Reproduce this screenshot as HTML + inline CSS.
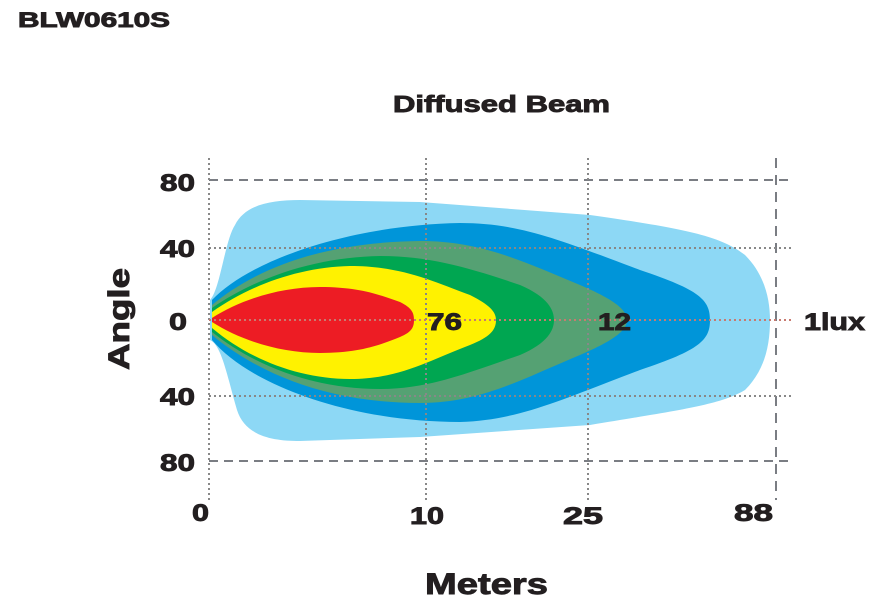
<!DOCTYPE html>
<html><head><style>body{margin:0;background:#fff}svg{display:block}text{font-family:"Liberation Sans",Arial,sans-serif;font-weight:bold;fill:#231f20;stroke:#231f20;stroke-width:0.9px}</style></head>
<body>
<svg width="876" height="608" viewBox="0 0 876 608">
<text x="18" y="27" font-size="21" textLength="152" lengthAdjust="spacingAndGlyphs">BLW0610S</text>
<text x="393" y="112" font-size="23" textLength="217" lengthAdjust="spacingAndGlyphs">Diffused Beam</text>
<path fill="#8dd8f5" d="M210,300 C220,290 225,240 235,225 C245,205 270,200 300,200 L420,202 L590,215 C680,228 720,235 745,255 C765,275 770,300 770,320 C770,345 765,370 745,390 C720,405 680,410 590,425 L420,437 L300,441 C270,441 245,435 237,410 C228,380 222,345 210,340 Z"/>
<path fill="#0095d9" d="M212,300 C250,260 350,225 460,223 C520,223 560,240 640,270 C700,290 710,300 710,320 C710,340 700,350 640,370 C560,400 520,420 460,422 C350,422 250,385 212,340 Z"/>
<path fill="#55a173" d="M212,305 C260,265 330,242 420,241 C480,241 520,260 580,285 C615,300 627,310 627,320 C627,330 615,340 580,355 C520,380 480,403 420,403 C330,403 260,375 212,335 Z"/>
<path fill="#00a651" d="M212,308 C260,275 320,257 380,256 C430,256 470,268 520,285 C548,297 554,310 554,320 C554,330 548,343 520,355 C470,372 430,389 380,389 C320,389 260,370 212,332 Z"/>
<path fill="#fff200" d="M212,312 C250,285 300,267 350,266 C400,266 430,280 470,295 C490,305 496,312 496,320 C496,330 490,337 470,345 C430,360 400,379 350,379 C300,379 250,360 212,328 Z"/>
<path fill="#ed1c24" d="M212,318 C240,300 280,287 320,287 C360,287 380,295 400,302 C412,308 414,313 414,320 C414,327 412,332 400,337 C380,345 360,353 320,353 C280,353 240,340 212,322 Z"/>
<g stroke="#7a7d83" stroke-width="2" fill="none">
<path d="M209,180 H790 M209,461 H790" stroke-dasharray="9,6"/>
<path d="M776,158 V500" stroke-dasharray="10,7"/>
</g>
<g stroke="#888" stroke-width="2" fill="none" stroke-dasharray="2,3">
<path d="M209,158 V500 M426,158 V500 M588,158 V500 M209,248 H792 M209,396 H792"/>
<path d="M209,320 H792" stroke="#c87a70"/>
</g>
<g font-size="24">
<text x="160" y="191" textLength="35" lengthAdjust="spacingAndGlyphs">80</text>
<text x="160" y="257" textLength="35" lengthAdjust="spacingAndGlyphs">40</text>
<text x="169" y="330" textLength="18" lengthAdjust="spacingAndGlyphs">0</text>
<text x="160" y="405" textLength="35" lengthAdjust="spacingAndGlyphs">40</text>
<text x="160" y="471" textLength="35" lengthAdjust="spacingAndGlyphs">80</text>
<text x="192" y="521" textLength="17" lengthAdjust="spacingAndGlyphs">0</text>
<text x="410" y="524" textLength="34" lengthAdjust="spacingAndGlyphs">10</text>
<text x="563" y="524" textLength="40" lengthAdjust="spacingAndGlyphs">25</text>
<text x="734" y="521" textLength="39" lengthAdjust="spacingAndGlyphs">88</text>
<text x="427" y="330" textLength="35" lengthAdjust="spacingAndGlyphs">76</text>
<text x="598" y="330" textLength="33" lengthAdjust="spacingAndGlyphs">12</text>
<text x="804" y="330" textLength="61" lengthAdjust="spacingAndGlyphs">1lux</text>
</g>
<text x="-370" y="0" font-size="30" textLength="102" lengthAdjust="spacingAndGlyphs" transform="translate(129,0) rotate(-90)">Angle</text>
<text x="425" y="594" font-size="30" textLength="123" lengthAdjust="spacingAndGlyphs">Meters</text>
</svg>
</body></html>
